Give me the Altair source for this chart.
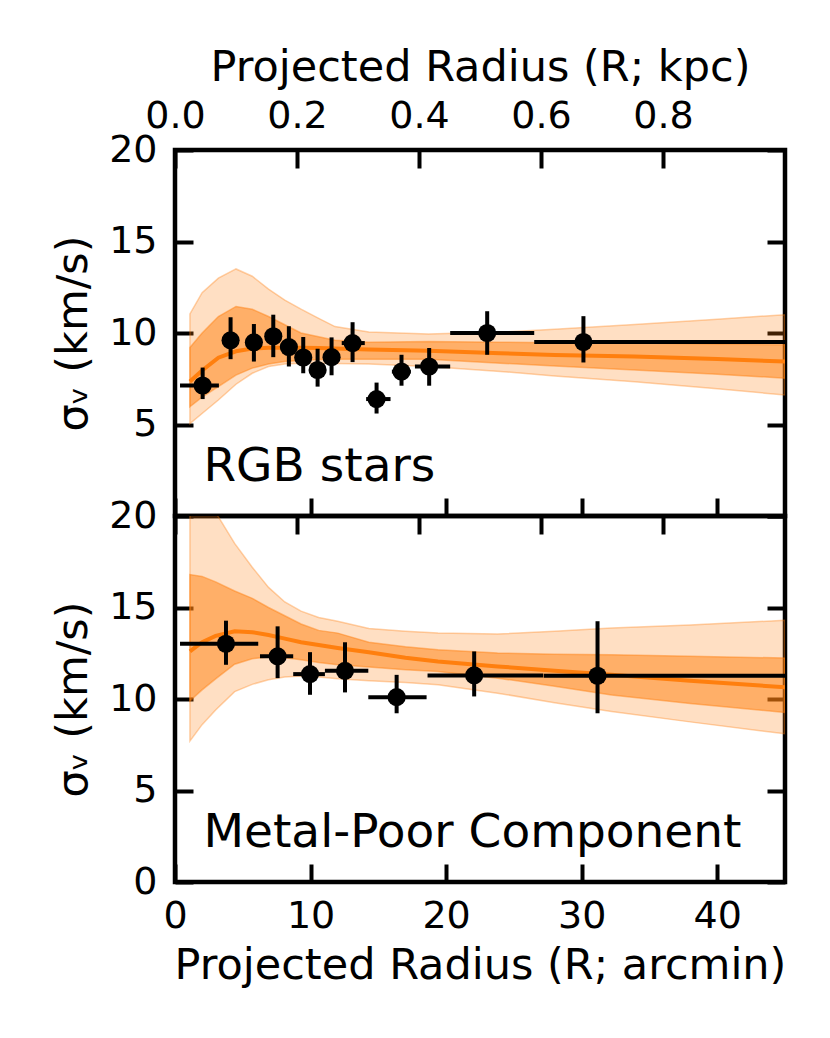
import altair as alt
import pandas as pd

# RGB stars: binned velocity dispersion (arcmin, km/s)
rgb_r = [2.04, 4.10, 5.82, 7.25, 8.40, 9.46, 10.52, 11.55, 13.10, 14.87, 16.71, 18.75, 23.03, 30.13]
rgb_r_lo = [0.37, 3.5, 5.2, 6.65, 7.8, 8.85, 9.9, 10.95, 12.3, 14.1, 16.0, 17.7, 20.3, 26.5]
rgb_r_hi = [3.24, 4.7, 6.4, 7.85, 9.0, 10.05, 11.1, 12.15, 14.0, 15.9, 17.4, 20.3, 26.5, 45.0]
rgb_sig = [7.13, 9.60, 9.49, 9.82, 9.23, 8.66, 7.98, 8.68, 9.45, 6.39, 7.89, 8.17, 10.0, 9.51]
rgb_sig_lo = [6.39, 8.57, 8.44, 8.68, 8.17, 7.80, 7.07, 7.69, 8.41, 5.60, 7.12, 7.12, 8.81, 8.39]
rgb_sig_hi = [8.11, 10.86, 10.49, 11.0, 10.37, 9.78, 9.14, 9.76, 10.59, 7.29, 8.81, 9.18, 11.19, 10.92]

# RGB stars: model percentiles
rgb_grid = [1.1, 2, 3.2, 4.5, 5.7, 6.9, 8.1, 9.3, 10.6, 11.8, 14.3, 18.7, 24, 28, 33.9, 40, 45]
rgb_lo2 = [5.05, 5.6, 6.34, 7.2, 7.8, 8.17, 8.3, 8.35, 8.35, 8.33, 8.3, 8.17, 7.9, 7.65, 7.34, 6.95, 6.61]
rgb_lo1 = [5.97, 6.5, 7.07, 7.7, 8.08, 8.3, 8.44, 8.5, 8.55, 8.57, 8.57, 8.57, 8.35, 8.2, 7.98, 7.75, 7.53]
rgb_med = [7.35, 7.95, 8.65, 9.0, 9.15, 9.2, 9.2, 9.2, 9.18, 9.15, 9.1, 9.03, 8.9, 8.8, 8.72, 8.58, 8.44]
rgb_hi1 = [9.21, 10.0, 10.9, 11.45, 11.3, 10.9, 10.45, 10.0, 9.8, 9.6, 9.5, 9.54, 9.5, 9.47, 9.45, 9.4, 9.36]
rgb_hi2 = [11.04, 12.2, 13.0, 13.5, 13.1, 12.4, 11.8, 11.3, 10.8, 10.35, 10.05, 9.95, 10.05, 10.2, 10.46, 10.75, 11.0]

# Metal-poor component: binned velocity dispersion
mp_r = [3.76, 7.57, 9.96, 12.54, 16.35, 22.07, 31.17]
mp_r_lo = [0.37, 6.27, 8.72, 11.06, 14.26, 18.63, 27.2]
mp_r_hi = [6.14, 8.72, 11.06, 14.26, 18.56, 27.16, 45.0]
mp_sig = [13.02, 12.33, 11.36, 11.54, 10.10, 11.29, 11.27]
mp_sig_lo = [11.87, 11.14, 10.23, 10.36, 9.22, 10.14, 9.22]
mp_sig_hi = [14.28, 13.97, 12.56, 13.1, 11.32, 12.6, 14.25]

# Metal-poor component: model percentiles
mp_grid = [1.1, 2, 3, 4.4, 5.7, 6.9, 8.1, 9.3, 10.6, 12, 14.3, 17, 19.4, 23.8, 28, 32.2, 38, 45]
mp_lo2 = [7.7, 8.6, 9.4, 10.4, 10.8, 11.05, 11.2, 11.25, 11.2, 11.1, 11.0, 10.9, 10.78, 10.32, 9.8, 9.32, 8.75, 8.1]
mp_lo1 = [9.9, 10.5, 11.1, 11.9, 12.2, 12.3, 12.25, 12.15, 12.0, 11.87, 11.75, 11.6, 11.5, 11.14, 10.7, 10.22, 9.75, 9.26]
mp_med = [12.6, 13.1, 13.45, 13.7, 13.65, 13.5, 13.3, 13.1, 12.95, 12.79, 12.55, 12.25, 12.05, 11.78, 11.55, 11.32, 11.0, 10.64]
mp_hi1 = [16.8, 16.7, 16.4, 15.9, 15.5, 15.0, 14.55, 14.1, 13.75, 13.6, 13.1, 12.85, 12.69, 12.51, 12.45, 12.42, 12.33, 12.24]
mp_hi2 = [23.0, 21.6, 20.2, 18.5, 17.2, 16.1, 15.3, 14.8, 14.45, 14.25, 13.85, 13.7, 13.6, 13.55, 13.7, 13.88, 14.05, 14.3]

arcmin_ticks = [0, 10, 20, 30, 40]
kpc_ticks = [0.0, 0.2, 0.4, 0.6, 0.8]
sigma_ticks = [0, 5, 10, 15, 20]

ORANGE = "#ff7f0e"
FONT = "DejaVu Sans"
TICKS = dict(tickSize=18, tickWidth=4, tickColor="black", offset=-18,
             domain=False, grid=False, labelFlush=False, labelFont=FONT,
             titleFont=FONT, labelFontSize=38, titleFontSize=43,
             labelColor="black", titleColor="black", titleFontWeight="normal")


def panel(r, r_lo, r_hi, sig, sig_lo, sig_hi, grid, lo2, lo1, med, hi1, hi2,
          label, top_labels, bottom_labels, y_values):
    pts = pd.DataFrame(dict(r=r, r_lo=r_lo, r_hi=r_hi, sig=sig, sig_lo=sig_lo, sig_hi=sig_hi))
    band = pd.DataFrame(dict(r=grid, lo2=lo2, lo1=lo1, med=med, hi1=hi1, hi2=hi2))
    txt = pd.DataFrame(dict(r=[2.1], sig=[1.9], text=[label]))

    if bottom_labels:
        ax_x = alt.Axis(orient="bottom", values=arcmin_ticks, format="d",
                        title="Projected Radius (R; arcmin)", labelPadding=15,
                        titlePadding=9, **TICKS)
    else:
        ax_x = alt.Axis(orient="bottom", values=arcmin_ticks, labels=False,
                        title=None, **TICKS)
    ax_y = alt.Axis(orient="left", values=y_values, format="d", title="σᵥ (km/s)",
                    labelPadding=18, titlePadding=13, **TICKS)
    sx = alt.Scale(domain=[0, 45], nice=False, zero=False)
    sy = alt.Scale(domain=[0, 20], nice=False, zero=False)

    def X(f):
        return alt.X(f"{f}:Q", scale=sx, axis=ax_x)

    def Y(f):
        return alt.Y(f"{f}:Q", scale=sy, axis=ax_y)

    outer = alt.Chart(band).mark_area(
        color=ORANGE, fillOpacity=0.25, stroke=ORANGE, strokeOpacity=0.35,
        strokeWidth=1.5, clip=True
    ).encode(x=X("r"), y=Y("lo2"), y2="hi2")
    inner = alt.Chart(band).mark_area(
        color=ORANGE, fillOpacity=0.5, stroke=ORANGE, strokeOpacity=0.45,
        strokeWidth=1.5, clip=True
    ).encode(x=X("r"), y=Y("lo1"), y2="hi1")
    median = alt.Chart(band).mark_line(color=ORANGE, strokeWidth=4, clip=True).encode(
        x=X("r"), y=Y("med"))
    xerr = alt.Chart(pts).mark_rule(color="black", strokeWidth=4, clip=True).encode(
        x=X("r_lo"), x2="r_hi", y=Y("sig"))
    yerr = alt.Chart(pts).mark_rule(color="black", strokeWidth=4, clip=True).encode(
        x=X("r"), y=Y("sig_lo"), y2="sig_hi")
    dots = alt.Chart(pts).mark_circle(color="black", opacity=1, size=330).encode(
        x=X("r"), y=Y("sig"))
    text = alt.Chart(txt).mark_text(
        align="left", baseline="alphabetic", fontSize=47, font=FONT, color="black"
    ).encode(x=X("r"), y=Y("sig"), text="text:N")

    main = alt.layer(outer, inner, median, xerr, yerr, dots, text)

    # twin axes: kpc on top, ticks-only sigma axis on the right
    if top_labels:
        ax_top = alt.Axis(orient="top", values=kpc_ticks, format=".1f",
                          title="Projected Radius (R; kpc)", labelPadding=15,
                          titlePadding=8, **TICKS)
    else:
        ax_top = alt.Axis(orient="top", values=kpc_ticks, labels=False,
                          title=None, **TICKS)
    ax_right = alt.Axis(orient="right", values=sigma_ticks, labels=False,
                        title=None, **TICKS)
    twin = pd.DataFrame(dict(kpc=kpc_ticks, sig=sigma_ticks))
    dummy = alt.Chart(twin).mark_point(opacity=0).encode(
        x=alt.X("kpc:Q", scale=alt.Scale(domain=[0, 1.0], nice=False, zero=False), axis=ax_top),
        y=alt.Y("sig:Q", scale=alt.Scale(domain=[0, 20], nice=False, zero=False), axis=ax_right),
    )

    return (
        alt.layer(main, dummy)
        .resolve_scale(x="independent", y="independent")
        .properties(width=610, height=366)
    )


top = panel(rgb_r, rgb_r_lo, rgb_r_hi, rgb_sig, rgb_sig_lo, rgb_sig_hi,
            rgb_grid, rgb_lo2, rgb_lo1, rgb_med, rgb_hi1, rgb_hi2,
            "RGB stars", True, False, [5, 10, 15, 20])
bottom = panel(mp_r, mp_r_lo, mp_r_hi, mp_sig, mp_sig_lo, mp_sig_hi,
               mp_grid, mp_lo2, mp_lo1, mp_med, mp_hi1, mp_hi2,
               "Metal-Poor Component", False, True, [0, 5, 10, 15, 20])

chart = (
    alt.vconcat(top, bottom, spacing=0, bounds="flush")
    .properties(padding={"left": 42, "top": 35, "right": 5, "bottom": 5})
    .configure_view(stroke="black", strokeWidth=4.5)
)

chart.save("out.html", embed_options={"renderer": "svg", "actions": False})
